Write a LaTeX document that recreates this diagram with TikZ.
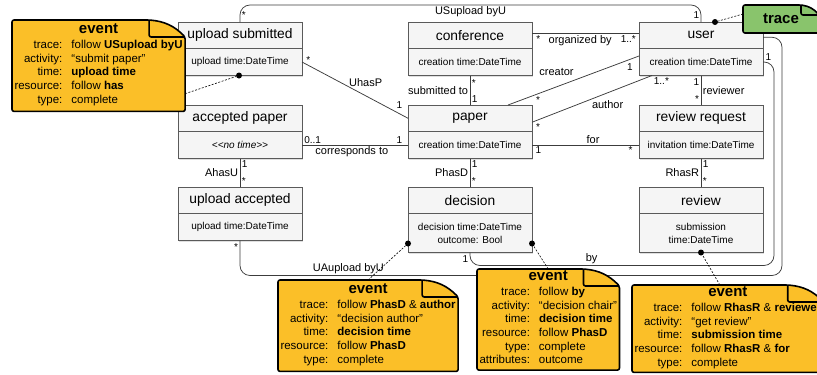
\documentclass[tikz,border=0pt]{standalone}
\usepackage{fontspec}
\setmainfont{Liberation Sans}
\usetikzlibrary{positioning,shadows}
\definecolor{eventfill}{RGB}{251,191,40}
\definecolor{tracefill}{RGB}{137,196,108}
\definecolor{boxfill}{RGB}{245,245,245}
\definecolor{boxline}{RGB}{90,90,90}
\definecolor{assocline}{RGB}{60,60,60}
\pgfdeclarelayer{notebody}
\pgfdeclarelayer{notetext}
\pgfsetlayers{main,notebody,notetext}
\begin{document}
\begin{tikzpicture}
[x=1pt,y=-1pt,
classhead/.style={rectangle,draw=boxline,fill=boxfill,minimum width=124pt,minimum height=26.5pt,inner sep=0pt,outer sep=0pt,anchor=north,font=\fontsize{13.8}{16}\selectfont,drop shadow={shadow xshift=1.2pt,shadow yshift=-1.2pt,opacity=.25}},
classattr/.style={rectangle,draw=boxline,fill=boxfill,minimum width=124pt,minimum height=27pt,inner sep=0pt,outer sep=0pt,align=center,font=\fontsize{10}{13}\selectfont,drop shadow={shadow xshift=1.2pt,shadow yshift=-1.2pt,opacity=.25}},
assoc/.style={draw=assocline,line width=.75pt},
lbl/.style={font=\fontsize{11}{13}\selectfont,inner sep=1.5pt},
mult/.style={font=\fontsize{10}{12}\selectfont,inner sep=1.5pt},
eventnote/.style={rectangle,anchor=north west,inner xsep=2.5pt,inner ysep=4pt,outer sep=0pt,font=\fontsize{11.5}{13.7}\selectfont},
tracenote/.style={rectangle,anchor=north west,minimum width=76pt,minimum height=28pt,outer sep=0pt,font=\fontsize{15}{17}\selectfont\bfseries},
notebd/.style={draw=black,line width=1.6pt,rounded corners=2pt,line join=round},
notelink/.style={black,line width=.6pt,dash pattern=on 2pt off 1.5pt},
linkdot/.style={circle,fill=black,inner sep=0pt,minimum size=6pt}]
\useasboundingbox (0,0) rectangle (817,375);
\node[classhead] (upsub) at (240,22) {upload submitted};
\node[classattr,below=0pt of upsub] (upsub-a) {upload time:DateTime};
\node[classhead] (accp) at (240,105) {accepted paper};
\node[classattr,below=0pt of accp] (accp-a) {\itshape\textless\kern0pt\textless no time\textgreater\kern0pt\textgreater};
\node[classhead] (upacc) at (240,187) {upload accepted};
\node[classattr,below=0pt of upacc] (upacc-a) {upload time:DateTime};
\node[classhead] (conf) at (470,22) {conference};
\node[classattr,below=0pt of conf] (conf-a) {creation time:DateTime};
\node[classhead] (paper) at (470,105) {paper};
\node[classattr,below=0pt of paper] (paper-a) {creation time:DateTime};
\node[classhead] (decision) at (470,187) {decision};
\node[classattr,below=0pt of decision,minimum height=39pt] (decision-a) {decision time:DateTime\\outcome: Bool};
\node[classhead] (user) at (701,22) {user};
\node[classattr,below=0pt of user] (user-a) {creation time:DateTime};
\node[classhead] (rr) at (701,105) {review request};
\node[classattr,below=0pt of rr] (rr-a) {invitation time:DateTime};
\node[classhead] (review) at (701,187) {review};
\node[classattr,below=0pt of review,minimum height=39pt] (review-a) {submission\\time:DateTime};

\draw[assoc,rounded corners=10pt] (upsub.north) -- node[mult,pos=.4,right]{*} ++(0,-17) -| node[lbl,pos=.25,below]{USupload byU} node[mult,pos=.8,left]{1} (user.north);
\draw[assoc] ([yshift=2pt]conf.east) -- node[mult,pos=.06,below]{*} node[lbl,pos=.45,below]{organized by} node[mult,pos=.9,below]{1..*} ([yshift=2pt]user.west);
\draw[assoc] (conf-a.south) -- node[mult,pos=.25,right]{*} node[mult,pos=.8,right]{1} node[lbl,pos=.5,left]{submitted to} (paper.north);
\draw[assoc] ([xshift=38pt]paper.north) -- node[mult,pos=.2,below right]{*} node[lbl,pos=.37,above=9pt]{creator} node[mult,pos=.93,below=2pt]{1} ([yshift=6pt]user-a.west);
\draw[assoc] ([yshift=-4pt]paper.east) -- node[mult,pos=.05,below=2pt]{*} node[lbl,pos=.63,below=6pt]{author} node[mult,pos=1,below right]{1..*} ([xshift=-49pt]user-a.south);
\draw[assoc] (paper-a.east) -- node[mult,pos=.06,below]{1} node[lbl,pos=.57,above]{for} node[mult,pos=.92,below]{*} (rr-a.west);
\draw[assoc] (accp-a.east) -- node[mult,pos=.1,above]{0..1} node[lbl,pos=.47,below]{corresponds to} node[mult,pos=.92,above]{1} (paper-a.west);
\draw[assoc] (upsub-a.east) -- node[mult,pos=.06,above]{*} node[lbl,pos=.6,above=7pt]{UhasP} node[mult,pos=.92,above=3pt]{1} (paper.west);
\draw[assoc] (accp-a.south) -- node[mult,pos=.2,right]{1} node[mult,pos=.8,right]{*} node[lbl,pos=.5,left]{AhasU} (upacc.north);
\draw[assoc] (paper-a.south) -- node[mult,pos=.2,right]{1} node[mult,pos=.8,right]{*} node[lbl,pos=.5,left]{PhasD} (decision.north);
\draw[assoc] (user-a.south) -- node[mult,pos=.23,left]{1} node[mult,pos=.8,left]{*} node[lbl,pos=.5,right]{reviewer} (rr.north);
\draw[assoc] (rr-a.south) -- node[mult,pos=.2,right]{1} node[mult,pos=.8,right]{*} node[lbl,pos=.5,left]{RhasR} (review.north);
\draw[assoc,rounded corners=10pt] (upacc-a.south) -- node[mult,pos=.2,left]{*} ++(0,35) -| node[lbl,pos=.1,above]{UAupload byU} ([xshift=19pt,yshift=-2pt]user.east) -- ([yshift=-2pt]user.east);
\draw[assoc,rounded corners=10pt] (decision-a.south) -- node[mult,pos=.5,left]{1} ++(0,13) -| node[lbl,pos=.2,above]{by} ([xshift=11pt]user-a.east) -- node[mult,pos=.5,above]{1} (user-a.east);

\node[linkdot] (dotus) at ([xshift=-1pt]upsub-a.south) {};
\node[linkdot] (dotuser) at ([xshift=14pt]user.north) {};
\node[linkdot] (dotdl) at ([yshift=9pt]decision-a.south west) {};
\node[linkdot] (dotdr) at ([yshift=9pt]decision-a.south east) {};
\node[linkdot] (dotrv) at (review-a.south) {};

\begin{pgfonlayer}{notetext}
\node[eventnote] (ev1) at (12,20) {\begin{tabular}{@{}r@{\hspace{9pt}}l@{}}
\multicolumn{2}{@{}c@{}}{\fontsize{15}{17}\selectfont\bfseries event}\\[1pt]
trace: & follow \textbf{USupload byU}\\
activity: & “submit paper”\\
time: & \textbf{upload time}\\
resource: & follow \textbf{has}\\
type: & complete
\end{tabular}};
\node[eventnote] (ev2) at (278,280) {\begin{tabular}{@{}r@{\hspace{9pt}}l@{}}
\multicolumn{2}{@{}c@{}}{\fontsize{15}{17}\selectfont\bfseries event}\\[1pt]
trace: & follow \textbf{PhasD} \& \textbf{author}\\
activity: & “decision author”\\
time: & \textbf{decision time}\\
resource: & follow \textbf{PhasD}\\
type: & complete
\end{tabular}};
\node[eventnote,inner ysep=2pt] (ev3) at (477,269) {\begin{tabular}{@{}r@{\hspace{9pt}}l@{}}
\multicolumn{2}{@{}c@{}}{\fontsize{15}{17}\selectfont\bfseries event}\\[1pt]
trace: & follow \textbf{by}\\
activity: & “decision chair”\\
time: & \textbf{decision time}\\
resource: & follow \textbf{PhasD}\\
type: & complete\\
attributes: & outcome
\end{tabular}};
\node[eventnote,inner ysep=2pt] (ev4) at (632,285) {\begin{tabular}{@{}r@{\hspace{9pt}}l@{}}
\multicolumn{2}{@{}c@{}}{\fontsize{15}{17}\selectfont\bfseries event}\\[1pt]
trace: & follow \textbf{RhasR} \& \textbf{reviewer}\\
activity: & “get review”\\
time: & \textbf{submission time}\\
resource: & follow \textbf{RhasR} \& \textbf{for}\\
type: & complete
\end{tabular}};
\node[tracenote] (trace) at (743,5) {trace};
\end{pgfonlayer}

\begin{pgfonlayer}{notebody}
\foreach \n/\fw/\fh/\c in {ev1/36/17/eventfill,ev2/36/17/eventfill,ev3/36/17/eventfill,ev4/36/17/eventfill,trace/18/10/tracefill}{
  \filldraw[notebd,fill=\c] (\n.south west) -- (\n.north west) -- ([xshift=-\fw pt]\n.north east) to[bend left=20] ([yshift=-\fh pt]\n.north east) -- (\n.south east) -- cycle;
  \draw[notebd] ([xshift=-\fw pt]\n.north east) -- ([xshift=-\fw pt,yshift=-\fh pt]\n.north east) -- ([yshift=-\fh pt]\n.north east);
}
\end{pgfonlayer}

\draw[notelink] ([yshift=-28pt]ev1.east) -- (dotus);
\draw[notelink] ([yshift=5pt]trace.west) -- (dotuser);
\draw[notelink] (ev2.north) -- (dotdl);
\draw[notelink] (ev3.north) -- (dotdr);
\draw[notelink] ([xshift=-8pt]ev4.north) -- (dotrv);
\end{tikzpicture}
\end{document}
